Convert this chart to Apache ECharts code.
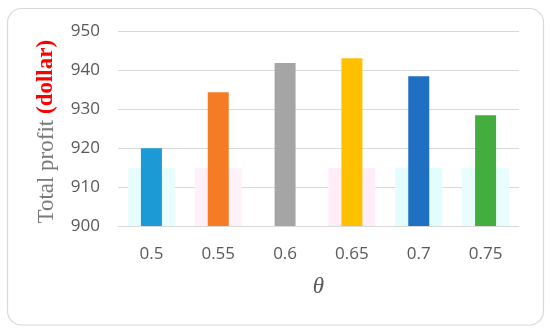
<!DOCTYPE html>
<html>
<head>
<meta charset="utf-8">
<script src="https://cdn.jsdelivr.net/npm/echarts@6/dist/echarts.min.js"></script>
<style>
html,body{margin:0;padding:0;background:#fff;}
#chart{width:550px;height:333px;}
</style>
</head>
<body>
<div id="chart"></div>
<script>
// Data
const categories = ['0.5', '0.55', '0.6', '0.65', '0.7', '0.75'];
const profit = [920.0, 934.4, 941.9, 943.1, 938.5, 928.5];
const barColors = ['#1C9AD6', '#F57B24', '#A5A5A5', '#FFC000', '#1F70C2', '#44AD40'];
// faint rectangles visible behind the bars in the reference
const shadeValues = [915, 915, '-', 915, 915, 915];
const shadeColors = ['#E8FEFE', '#FFF1FA', '#FFFFFF', '#FFEEF9', '#E3FDFE', '#E8FEFE'];
const yTicks = {min: 900, max: 950, interval: 10};

const chart = echarts.init(document.getElementById('chart'), null, {renderer: 'canvas'});
const gray = '#595959';
chart.setOption({
  animation: false,
  backgroundColor: '#ffffff',
  graphic: [{
    type: 'rect',
    shape: {x: 7.5, y: 8.5, width: 536, height: 316.5, r: 14},
    style: {fill: 'none', stroke: '#D9D9D9', lineWidth: 1.2},
    silent: true, z: -10
  }],
  grid: {left: 118, right: 31, top: 31.5, bottom: 107, containLabel: false, outerBoundsMode: 'none'},
  xAxis: [{
    type: 'category',
    data: categories,
    axisLine: {show: true, lineStyle: {color: '#D9D9D9', width: 1}},
    axisTick: {show: false},
    axisLabel: {color: gray, fontFamily: 'Open Sans', fontSize: 17, margin: 20},
    name: 'θ',
    nameLocation: 'middle',
    nameGap: 49,
    nameTextStyle: {color: gray, fontFamily: 'Liberation Serif', fontStyle: 'italic', fontSize: 23}
  }, {
    type: 'category',
    data: categories,
    show: false
  }],
  yAxis: {
    type: 'value',
    min: yTicks.min, max: yTicks.max, interval: yTicks.interval,
    axisLine: {show: false},
    axisTick: {show: false},
    splitLine: {lineStyle: {color: '#D9D9D9', width: 1}},
    axisLabel: {color: gray, fontFamily: 'Open Sans', fontSize: 17, margin: 18},
    name: '{a|Total profit }{b|(dollar)}',
    nameLocation: 'middle',
    nameRotate: 90,
    nameGap: 60,
    nameTextStyle: {
      padding: [0, 6, 0, 0],
      rich: {
        a: {color: '#7A7A7A', fontFamily: 'Liberation Serif', fontSize: 23},
        b: {color: '#FF0000', fontFamily: 'Liberation Serif', fontWeight: 'bold', fontSize: 23}
      }
    }
  },
  series: [{
    type: 'bar',
    xAxisIndex: 1,
    barWidth: 47,
    z: 1,
    silent: true,
    data: shadeValues.map((v, i) => ({value: v, itemStyle: {color: shadeColors[i]}}))
  }, {
    type: 'bar',
    xAxisIndex: 0,
    barWidth: 21,
    z: 3,
    data: profit.map((v, i) => ({value: v, itemStyle: {color: barColors[i]}}))
  }]
});
</script>
</body>
</html>
